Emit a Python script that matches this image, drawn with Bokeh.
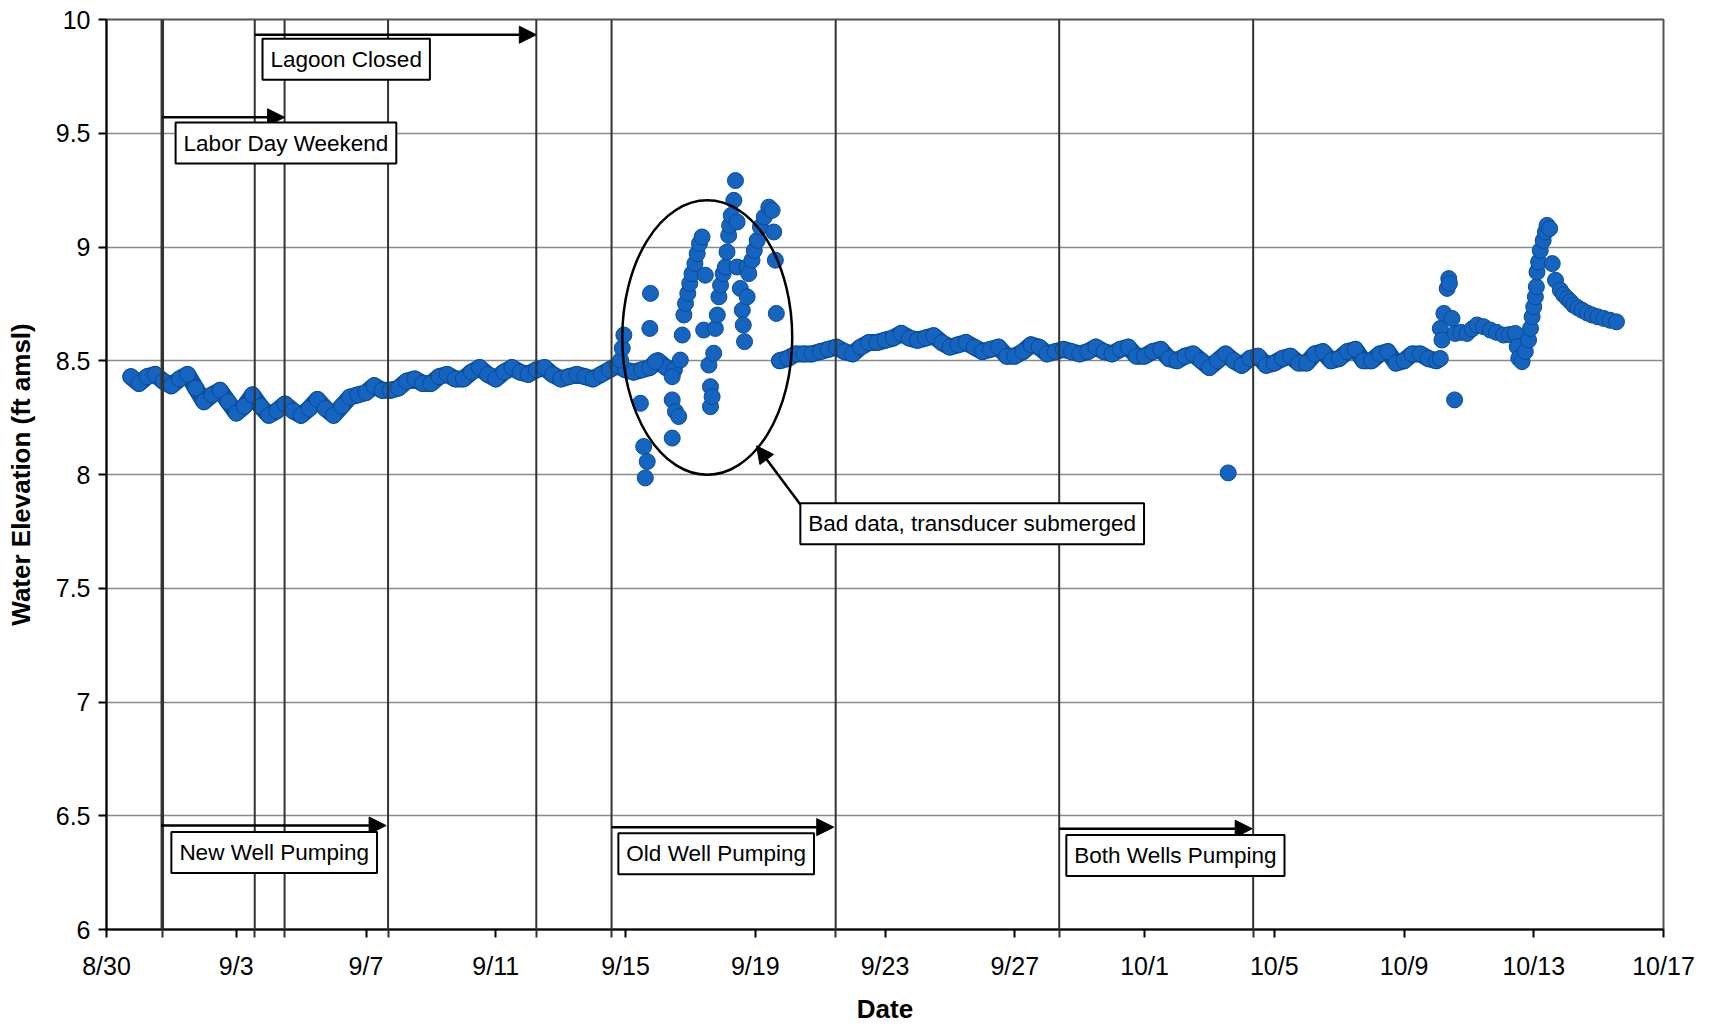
import numpy as np
from bokeh.plotting import figure
from bokeh.models import (ColumnDataSource, Range1d, FixedTicker, Label, Arrow,
                          NormalHead, NumeralTickFormatter, Span)
from bokeh.embed import file_html
from bokeh.resources import INLINE

FONT = "Liberation Sans"

# ---------------- data ----------------
# x values are days after 8/30
tick_days = [0, 4, 8, 12, 16, 20, 24, 28, 32, 36, 40, 44, 48]
tick_labels = ["8/30", "9/3", "9/7", "9/11", "9/15", "9/19", "9/23", "9/27",
               "10/1", "10/5", "10/9", "10/13", "10/17"]
y_ticks = [6, 6.5, 7, 7.5, 8, 8.5, 9, 9.5, 10]

# regular 6-hourly readings, 8/30 18:00 -> 9/16 12:00
band1_start = 0.75
band1_step = 0.25
band1_vals = [
    8.43, 8.40, 8.43, 8.44, 8.41, 8.39, 8.42, 8.44,
    8.38, 8.32, 8.35, 8.37, 8.32, 8.27, 8.30, 8.35,
    8.30, 8.26, 8.28, 8.31, 8.28, 8.26, 8.29, 8.33,
    8.29, 8.26, 8.30, 8.34, 8.35, 8.36, 8.39, 8.37,
    8.37, 8.38, 8.41, 8.42, 8.40, 8.40, 8.43, 8.44,
    8.42, 8.42, 8.45, 8.47, 8.44, 8.42, 8.45, 8.47,
    8.45, 8.44, 8.46, 8.47, 8.44, 8.42, 8.43, 8.44,
    8.43, 8.42, 8.44, 8.46, 8.48, 8.46, 8.45, 8.46,
    8.47, 8.50, 8.47, 8.46,
]

# regular 6-hourly readings, 9/19 18:00 -> 10/10 00:00
band2_start = 20.75
band2_step = 0.25
band2_vals = [
    8.50, 8.51, 8.53, 8.53, 8.53, 8.54, 8.55, 8.56,
    8.54, 8.53, 8.56, 8.58, 8.58, 8.59, 8.60, 8.62,
    8.60, 8.59, 8.60, 8.61, 8.58, 8.56, 8.57, 8.58,
    8.56, 8.54, 8.55, 8.56, 8.52, 8.52, 8.54, 8.57,
    8.56, 8.53, 8.54, 8.55, 8.54, 8.53, 8.54, 8.56,
    8.54, 8.53, 8.55, 8.56, 8.52, 8.52, 8.54, 8.55,
    8.51, 8.50, 8.52, 8.53, 8.50, 8.47, 8.50, 8.53,
    8.50, 8.48, 8.51, 8.52, 8.48, 8.49, 8.51, 8.52,
    8.49, 8.49, 8.53, 8.54, 8.50, 8.51, 8.54, 8.55,
    8.50, 8.50, 8.53, 8.54, 8.49, 8.50, 8.53, 8.53,
    8.51, 8.50,
]

# readings during the transducer-submerged period (bad data)
bad_days = [15.85, 15.90, 15.95, 16.46, 16.56, 16.61, 16.67, 16.75, 16.77, 16.92,
            17.44, 17.44, 17.44, 17.54, 17.64, 17.69, 17.75,
            17.80, 17.85, 17.92, 17.98, 18.05, 18.14, 18.21, 18.28, 18.36, 18.46,
            18.41, 18.57, 18.62, 18.62, 18.67, 18.72, 18.77, 18.83,
            18.88, 18.93, 19.01, 19.08, 19.13, 19.18, 19.21, 19.26, 19.34, 19.39, 19.44,
            19.44, 19.54, 19.60, 19.63, 19.67, 19.75, 19.75,
            19.80, 19.90, 19.97, 20.06, 20.16, 20.28, 20.42, 20.52,
            20.57, 20.62, 20.65]
bad_vals = [8.503, 8.555, 8.613, 8.313, 8.123, 7.985, 8.057, 8.642, 8.796, 8.496,
            8.328, 8.160, 8.430, 8.277, 8.255, 8.503, 8.613,
            8.701, 8.752, 8.796, 8.840, 8.883, 8.927, 8.971, 9.015, 9.044, 8.876,
            8.635, 8.481, 8.386, 8.298, 8.342, 8.533, 8.642, 8.701,
            8.781, 8.832, 8.883, 8.912, 8.978, 9.051, 9.095, 9.139, 9.205, 9.292, 9.110,
            8.912, 8.818, 8.722, 8.657, 8.584, 8.912, 8.781,
            8.883, 8.942, 8.985, 9.029, 9.088, 9.132, 9.175, 9.161,
            9.066, 8.942, 8.708]

# late record, 10/10 -> 10/15
late_days = [41.12, 41.12, 41.17, 41.23, 41.33, 41.38, 41.40, 41.48, 41.56, 41.58,
             41.75, 41.94, 42.10, 42.25, 42.45, 42.66, 42.85, 43.07, 43.25, 43.43,
             43.49, 43.54, 43.64, 43.74, 43.84, 43.90, 43.95, 44.00, 44.05, 44.08,
             44.10, 44.15, 44.20, 44.29, 44.36, 44.41, 44.49, 44.57, 44.67, 44.82,
             44.92, 45.03, 45.13, 45.23, 45.36, 45.49, 45.65, 45.80, 45.98, 46.16,
             46.35, 46.55]
late_vals = [8.510, 8.642, 8.591, 8.708, 8.818, 8.861, 8.840, 8.686, 8.328, 8.620,
             8.625, 8.620, 8.640, 8.657, 8.650, 8.635, 8.625, 8.613, 8.615, 8.620,
             8.562, 8.511, 8.496, 8.540, 8.591, 8.642, 8.693, 8.737, 8.781, 8.825,
             8.890, 8.934, 8.985, 9.029, 9.066, 9.095, 9.081, 8.927, 8.854, 8.810,
             8.790, 8.774, 8.760, 8.744, 8.733, 8.722, 8.710, 8.701, 8.693, 8.686,
             8.678, 8.671]

# single low reading on 10/3
outlier_days = [34.58]
outlier_vals = [8.007]

# event periods (days after 8/30)
events = [
    # name,                start, end,   arrow y
    ("Labor Day Weekend",  1.72,  5.49,  9.570),
    ("Lagoon Closed",      4.57,  13.25, 9.933),
    ("New Well Pumping",   1.68,  8.62,  6.457),
    ("Old Well Pumping",   15.57, 22.42, 6.450),
    ("Both Wells Pumping", 29.37, 35.32, 6.443),
]
event_lines = [1.72, 4.57, 5.49, 8.68, 13.25, 15.57, 22.48, 29.37, 35.35]

# annotation layout
label_pos = {
    "Labor Day Weekend":  (2.13, 9.457),
    "Lagoon Closed":      (4.81, 9.825),
    "New Well Pumping":   (2.00, 6.338),
    "Old Well Pumping":   (15.78, 6.333),
    "Both Wells Pumping": (29.59, 6.325),
}
bad_label = ("Bad data, transducer submerged", 21.39, 7.784)
ellipse_spec = (18.52, 8.602, 5.24, 1.206)
callout = (21.39, 7.868, 20.04, 8.126)

# ---------------- assemble ----------------
b1_days = band1_start + band1_step * np.arange(len(band1_vals))
b2_days = band2_start + band2_step * np.arange(len(band2_vals))
all_days = np.concatenate([b1_days, bad_days, b2_days, outlier_days, late_days])
all_vals = np.concatenate([band1_vals, bad_vals, band2_vals, outlier_vals, late_vals])
src = ColumnDataSource(dict(x=all_days, y=all_vals))

p = figure(width=1712, height=1026,
           x_range=Range1d(0, 48), y_range=Range1d(6, 10),
           output_backend="svg", toolbar_location=None,
           min_border_left=106, min_border_right=49,
           min_border_top=19, min_border_bottom=95)
p.background_fill_color = "white"
p.border_fill_color = "white"
p.outline_line_color = "#555555"
p.outline_line_width = 2

# grid
p.xgrid.visible = False
p.ygrid.ticker = FixedTicker(ticks=y_ticks)
p.ygrid.grid_line_color = "#8a8a8a"
p.ygrid.grid_line_width = 1.5

# event lines
for d in event_lines:
    p.add_layout(Span(location=d, dimension="height", line_color="#333333",
                      line_width=3.5 if d == event_lines[0] else 2))

# data: the dense logger record forms a continuous ribbon of overlapping markers
BAND = "#0d52a2"
p.line(b1_days, band1_vals, line_color=BAND, line_width=17,
       line_join="round", line_cap="round")
p.line(b2_days, band2_vals, line_color=BAND, line_width=17,
       line_join="round", line_cap="round")
p.scatter("x", "y", source=src, size=16, marker="circle",
          fill_color="#1565c0", line_color="#0c4a96", line_width=1)

# ellipse
ex, ey, ew, eh = ellipse_spec
p.ellipse(x=[ex], y=[ey], width=ew, height=eh, fill_color=None,
          line_color="black", line_width=2.5)

# arrows + labels
for name, s, e, ay in events:
    p.add_layout(Arrow(end=NormalHead(size=17, fill_color="black", line_color="black"),
                       x_start=s, y_start=ay, x_end=e, y_end=ay,
                       line_color="black", line_width=2.5))
    lx, ly = label_pos[name]
    p.add_layout(Label(x=lx, y=ly, text=name, text_font=FONT, text_font_size="22.5px",
                       text_color="black", text_align="left", text_baseline="middle",
                       background_fill_color="white", border_line_color="black",
                       border_line_width=2, padding=8))

cx0, cy0, cx1, cy1 = callout
p.add_layout(Arrow(end=NormalHead(size=17, fill_color="black", line_color="black"),
                   x_start=cx0, y_start=cy0, x_end=cx1, y_end=cy1,
                   line_color="black", line_width=2.5))
p.add_layout(Label(x=bad_label[1], y=bad_label[2], text=bad_label[0], text_font=FONT,
                   text_font_size="22.5px", text_color="black", text_align="left",
                   text_baseline="middle", background_fill_color="white",
                   border_line_color="black", border_line_width=2, padding=8))

# axes
for ax in (p.xaxis[0], p.yaxis[0]):
    ax.axis_line_color = "black"
    ax.axis_line_width = 2
    ax.major_tick_line_color = "black"
    ax.major_tick_line_width = 2
    ax.major_tick_in = 0
    ax.major_tick_out = 8
    ax.major_label_text_font = FONT
    ax.major_label_text_font_size = "25px"
    ax.major_label_text_color = "black"
    ax.axis_label_text_font = FONT
    ax.axis_label_text_font_style = "bold"
    ax.axis_label_text_font_size = "26px"
    ax.axis_label_text_color = "black"

p.xaxis.ticker = FixedTicker(ticks=tick_days, minor_ticks=event_lines)
p.xaxis.major_label_overrides = {d: l for d, l in zip(tick_days, tick_labels)}
p.xaxis.minor_tick_in = 0
p.xaxis.minor_tick_out = 8
p.xaxis.minor_tick_line_color = "#333333"
p.xaxis.minor_tick_line_width = 2
p.xaxis.major_label_standoff = 14
p.xaxis.axis_label = "Date"
p.xaxis.axis_label_standoff = 11

p.yaxis.ticker = FixedTicker(ticks=y_ticks)
p.yaxis.formatter = NumeralTickFormatter(format="0.[0]")
p.yaxis.minor_tick_line_color = None
p.yaxis.major_label_standoff = 8
p.yaxis.axis_label = "Water Elevation (ft amsl)"
p.yaxis.axis_label_standoff = 17

open("out.html", "w").write(file_html(p, INLINE))
